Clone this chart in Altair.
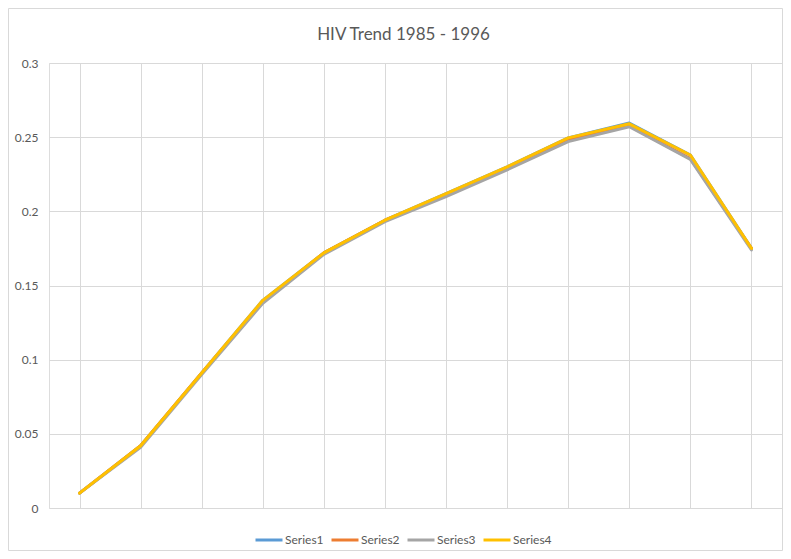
import altair as alt
import pandas as pd

years = [str(y) for y in range(1985, 1997)]
series_names = ["Series1", "Series2", "Series3", "Series4"]
series1 = [0.010, 0.042, 0.091, 0.140, 0.172, 0.194, 0.212, 0.230, 0.2495, 0.2595, 0.238, 0.175]
series2 = [0.010, 0.042, 0.091, 0.139, 0.172, 0.194, 0.211, 0.229, 0.248, 0.2575, 0.2355, 0.175]
series3 = [0.010, 0.041, 0.090, 0.138, 0.171, 0.193, 0.210, 0.228, 0.247, 0.257, 0.235, 0.174]
series4 = [0.010, 0.042, 0.091, 0.140, 0.172, 0.194, 0.212, 0.230, 0.2495, 0.259, 0.238, 0.175]
colors = ["#5B9BD5", "#ED7D31", "#A5A5A5", "#FFC000"]
y_ticks = [0, 0.05, 0.1, 0.15, 0.2, 0.25, 0.3]
title_text = ["HIV Trend 1985 - 1996"]

rows = []
for name, vals in zip(series_names, [series1, series2, series3, series4]):
    for yr, v in zip(years, vals):
        rows.append({"year": yr, "series": name, "value": v})
df = pd.DataFrame(rows)

FONT = "Lato"
GRID = "#d9d9d9"
TXT = "#595959"

lines = alt.Chart(df).mark_line(strokeWidth=3, strokeJoin="round", strokeCap="round").encode(
    x=alt.X("year:O", scale=alt.Scale(paddingInner=0, paddingOuter=0),
            axis=alt.Axis(title=None, labels=False, ticks=False, domain=False, grid=True,
                          bandPosition=0, gridColor=GRID, gridWidth=1)),
    y=alt.Y("value:Q", scale=alt.Scale(domain=[0, 0.3], nice=False),
            axis=alt.Axis(title=None, values=y_ticks, format="~g", ticks=False, domain=False,
                          grid=True, gridColor=GRID, gridWidth=1, labelPadding=11,
                          labelFont=FONT, labelFontSize=12, labelColor=TXT)),
    color=alt.Color("series:N", scale=alt.Scale(domain=series_names, range=colors),
                    legend=alt.Legend(title=None, orient="none", direction="horizontal",
                                      legendX=205, legendY=462, symbolType="stroke",
                                      symbolSize=729, symbolStrokeWidth=3, labelOffset=1,
                                      columnPadding=1, labelFont=FONT, labelFontSize=12,
                                      labelColor=TXT, padding=0)),
    order=alt.Order("series:N"),
)

border = alt.Chart(alt.Data(values=[{}])).mark_rect(
    filled=False, stroke=GRID, strokeWidth=1
).encode(
    x=alt.value(-40.5), x2=alt.value(733.5), y=alt.value(-54.5), y2=alt.value(487.5)
)

title = alt.Chart(alt.Data(values=[{"t": title_text[0]}])).mark_text(
    font=FONT, fontSize=17, color=TXT, align="center", baseline="alphabetic"
).encode(
    text="t:N", x=alt.value(354.5), y=alt.value(-23)
)

chart = alt.layer(border, lines, title).properties(
    width=733, height=445,
    autosize=alt.AutoSizeParams(type="none"),
    padding={"left": 41, "top": 55, "right": 1, "bottom": 43},
).configure_view(stroke=GRID, strokeWidth=1).configure(background="white")

chart.save("out.html", embed_options={"renderer": "svg", "actions": False})
